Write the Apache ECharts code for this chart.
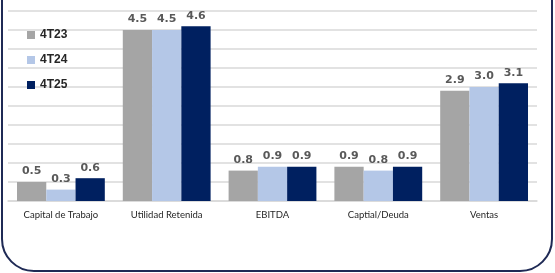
<!DOCTYPE html>
<html>
<head>
<meta charset="utf-8">
<script src="https://cdn.jsdelivr.net/npm/echarts@6/dist/echarts.min.js"></script>
<style>
  html, body { margin: 0; padding: 0; background: #ffffff; }
  #chart { width: 555px; height: 273px; }
</style>
</head>
<body>
<div id="chart"></div>
<script>
// Categories and values
const categories = ['Capital de Trabajo', 'Utilidad Retenida', 'EBITDA', 'Captial/Deuda', 'Ventas'];
const serie4T23 = [0.5, 4.5, 0.8, 0.9, 2.9];
const serie4T24 = [0.3, 4.5, 0.9, 0.8, 3.0];
const serie4T25 = [0.6, 4.6, 0.9, 0.9, 3.1];

const COLORS = {
  gray: '#A5A5A5',
  light: '#B4C7E7',
  navy: '#002060',
  label: '#595959',
  text: '#262626',
  grid: '#D9D9D9',
  frame: '#1F2A55',
};

const chart = echarts.init(document.getElementById('chart'));

function barSeries(name, data, color) {
  return {
    name: name,
    type: 'bar',
    data: data,
    barGap: '0%',
    barCategoryGap: '17%',
    itemStyle: { color: color },
    label: {
      show: true,
      position: 'top',
      distance: 5,
      color: COLORS.label,
      fontFamily: 'DejaVu Sans',
      fontWeight: 'bold',
      fontSize: 11,
      formatter: p => p.value.toFixed(1),
    },
  };
}

const option = {
  backgroundColor: '#ffffff',
  animation: false,
  // rounded frame around the chart
  graphic: [
    {
      type: 'rect',
      shape: { x: 2, y: -40, width: 550, height: 311, r: 32 },
      style: { fill: 'none', stroke: COLORS.frame, lineWidth: 2 },
      silent: true,
    },
  ],
  legend: {
    orient: 'vertical',
    left: 22,
    top: 24,
    itemWidth: 8,
    itemHeight: 8,
    itemGap: 13,
    icon: 'rect',
    textStyle: { color: COLORS.text, fontSize: 12, fontWeight: 'bold', fontFamily: 'Liberation Sans' },
    data: ['4T23', '4T24', '4T25'],
  },
  grid: { left: 8, right: 18, top: 11, bottom: 72 },
  xAxis: {
    type: 'category',
    data: categories,
    axisLine: { lineStyle: { color: COLORS.grid, width: 1.5 } },
    axisTick: { show: false },
    axisLabel: { color: COLORS.text, fontSize: 9.5, fontFamily: 'Lato', margin: 9 },
  },
  yAxis: {
    type: 'value',
    min: 0,
    max: 5,
    interval: 0.5,
    axisLabel: { show: false },
    axisLine: { show: false },
    axisTick: { show: false },
    splitLine: { lineStyle: { color: COLORS.grid, width: 1.5 } },
  },
  series: [
    barSeries('4T23', serie4T23, COLORS.gray),
    barSeries('4T24', serie4T24, COLORS.light),
    barSeries('4T25', serie4T25, COLORS.navy),
  ],
};

chart.setOption(option);
</script>
</body>
</html>
